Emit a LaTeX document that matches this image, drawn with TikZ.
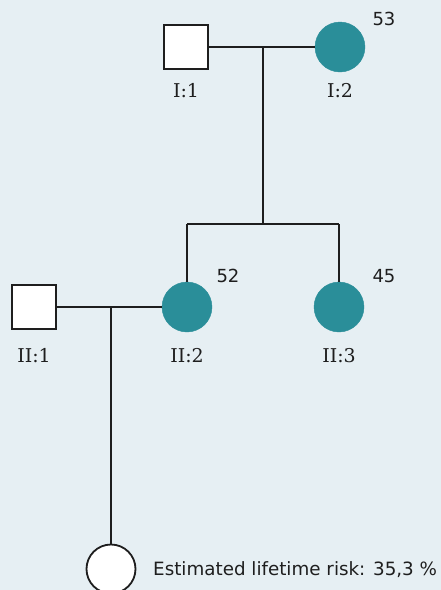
\documentclass[tikz,border=0pt]{standalone}
\usepackage{fontspec}
\setmainfont{DejaVu Sans}
\newfontfamily\lblfont{DejaVu Serif}
\definecolor{bgc}{HTML}{E6EFF3}
\definecolor{teal}{HTML}{2A8E99}
\definecolor{ink}{HTML}{1E1E1E}
\begin{document}
\begin{tikzpicture}[x=1pt,y=-1pt,
  male/.style={draw=ink,line width=2pt,fill=white,minimum size=44pt,inner sep=0pt,rectangle},
  aff/.style={fill=teal,circle,minimum size=50pt,inner sep=0pt,draw=teal},
  unaff/.style={draw=ink,line width=1.8pt,fill=white,circle,minimum size=49pt,inner sep=0pt},
  lbl/.style={font=\lblfont\fontsize{19}{21}\selectfont,text=ink},
  age/.style={font=\fontsize{18}{20}\selectfont,text=ink},
  ln/.style={draw=ink,line width=2pt}]
\fill[bgc] (0,0) rectangle (441,590);
\useasboundingbox (0,0) rectangle (441,590);
% generation I
\node[male] (i1) at (186,47) {};
\node[aff] (i2) at (340,47) {};
\node[lbl] (li1) at (186,91) {I:1};
\node[lbl] (li2) at (340,91) {I:2};
\node[age] (a53) at (384,19) {53};
\coordinate (m1) at (263,47);
\coordinate (s1) at (263,224);
\coordinate (s1l) at (187,224);
\coordinate (s1r) at (339,224);
% generation II
\node[male] (ii1) at (34,307) {};
\node[aff] (ii2) at (187,307) {};
\node[aff] (ii3) at (339,307) {};
\node[lbl] (lii1) at (34,356) {II:1};
\node[lbl] (lii2) at (187,356) {II:2};
\node[lbl] (lii3) at (339,356) {II:3};
\node[age] (a52) at (228,276) {52};
\node[age] (a45) at (384,276) {45};
\coordinate (m2) at (111,307);
% generation III
\node[unaff] (iii1) at (111,569) {};
\node[font=\fontsize{18.3}{20}\selectfont,text=ink,anchor=west,inner sep=0pt] (risk) at (153,570) {Estimated lifetime risk: 35,3 \%};
% connectors
\draw[ln] (i1.east) -- (i2.west);
\draw[ln] (m1) -- (s1);
\draw[ln] (s1l) -- (s1r);
\draw[ln] (s1l) -- (ii2.north);
\draw[ln] (s1r) -- (ii3.north);
\draw[ln] (ii1.east) -- (ii2.west);
\draw[ln] (m2) -- (iii1.north);
\end{tikzpicture}
\end{document}
